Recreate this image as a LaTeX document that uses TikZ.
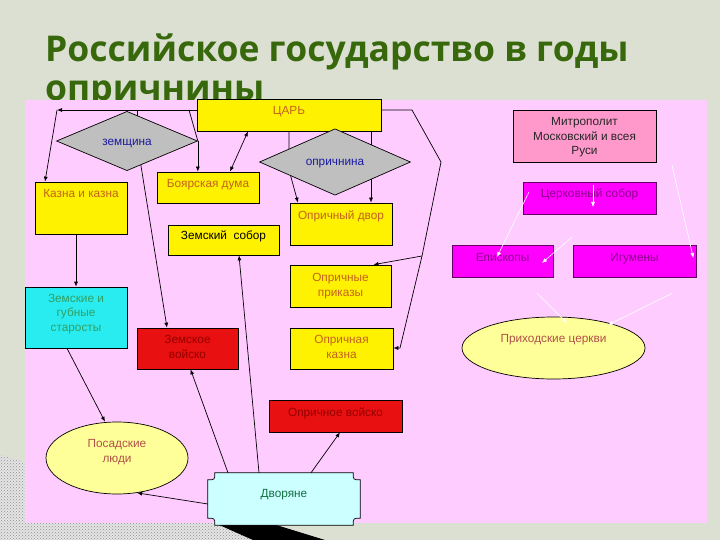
\documentclass[tikz,border=0pt]{standalone}
\usepackage{fontspec}
\setmainfont{Liberation Sans}
\newfontfamily\titlefont{Open Sans}
\usetikzlibrary{shapes.geometric,arrows.meta,calc,patterns}
\definecolor{slide}{RGB}{220,224,210}
\definecolor{panel}{RGB}{255,204,255}
\definecolor{titlegreen}{RGB}{56,104,12}
\definecolor{ytext}{RGB}{196,98,28}
\definecolor{navytext}{RGB}{26,26,160}
\definecolor{redbox}{RGB}{232,16,16}
\definecolor{redtext}{RGB}{150,0,0}
\definecolor{cyanbox}{RGB}{40,236,240}
\definecolor{greentext}{RGB}{50,160,100}
\definecolor{paleyellow}{RGB}{255,255,153}
\definecolor{rosetext}{RGB}{176,80,72}
\definecolor{palecyan}{RGB}{204,255,255}
\definecolor{dvortext}{RGB}{16,112,64}
\definecolor{metropink}{RGB}{255,153,204}
\definecolor{magentabox}{RGB}{255,0,255}
\definecolor{purpletext}{RGB}{140,0,140}
\definecolor{purpleedge}{RGB}{100,0,100}
\pgfdeclarelayer{back}
\pgfdeclarelayer{wires}
\pgfsetlayers{back,wires,main}
\newcommand{\boxfont}{\fontsize{11.8}{14.5}\selectfont}
\begin{document}
\begin{tikzpicture}[x=1pt,y=-1pt,
    >={Latex[length=5pt,width=4pt]},
    box/.style={draw=black, line width=0.7pt, inner xsep=2pt, inner ysep=0pt, align=center, font=\boxfont},
    ybox/.style={box, fill=yellow, text=ytext},
    rbox/.style={box, fill=redbox, text=redtext},
    mbox/.style={box, draw=purpleedge, fill=magentabox, text=purpletext},
    diam/.style={diamond, draw=black, line width=0.7pt, fill=black!25, text=navytext, inner sep=0pt, font=\boxfont},
    oval/.style={ellipse, draw=black, line width=0.7pt, fill=paleyellow, text=rosetext, inner sep=0pt, align=center, font=\boxfont},
    wire/.style={line width=0.7pt},
    ghost/.style={draw=white, line width=0.6pt}]
  \useasboundingbox (0,0) rectangle (720,540);

  % slide, title and panel
  \begin{pgfonlayer}{back}
    \fill[slide] (0,0) rectangle (720,540);
    \node[font=\titlefont\bfseries\fontsize{35.5}{39}\selectfont, text=titlegreen, anchor=base west, inner sep=0pt, align=left] (title) at (45,101) {Российское государство в годы\\опричнины};
    \fill[black!10] (0,455) -- (25,462) -- (25,523) -- (217,523) -- (253,540) -- (0,540) -- cycle;
    \fill[pattern=crosshatch dots, pattern color=black!45] (0,455) -- (25,462) -- (25,523) -- (217,523) -- (253,540) -- (0,540) -- cycle;
    \fill[black] (217,524) -- (273,524) -- (325,540) -- (253,540) -- cycle;
    \fill[panel] (25,100) rectangle (707,523);
  \end{pgfonlayer}

  % state
  \node[ybox, minimum width=184, text height=16, text depth=16] (car) at (289,115) {ЦАРЬ};
  \node[diam, minimum width=141, minimum height=40, text height=10, text depth=0] (zem) at (127,141) {земщина};
  \node[diam, minimum width=151, minimum height=40, text height=8, text depth=0] (opr) at (335,162) {опричнина};
  \node[ybox, minimum width=92, text height=16, text depth=36] (kazna) at (81,208) {Казна и казна};
  \node[ybox, minimum width=102, text height=16, text depth=15] (boyar) at (208,187.5) {Боярская дума};
  \node[ybox, minimum width=102, text height=16, text depth=26] (odvor) at (341,224) {Опричный двор};
  \node[ybox, text=black, minimum width=111, text height=15, text depth=15] (zsobor) at (223.5,240) {Земский\ \ собор};
  \node[ybox, minimum width=101, text height=31, text depth=11] (oprikaz) at (340.5,286) {Опричные\\приказы};
  \node[ybox, minimum width=103, text height=30, text depth=11] (okazna) at (341.5,348.5) {Опричная\\казна};
  \node[rbox, minimum width=133, text height=16, text depth=16] (ovoisko) at (335.5,416) {Опричное войско};
  \node[box, fill=cyanbox, text=greentext, minimum width=102, text height=44, text depth=17] (starosty) at (76,317.5) {Земские и\\губные\\старосты};
  \node[rbox, minimum width=101, text height=30, text depth=11] (zvoisko) at (187.5,348.5) {Земское\\войско};
  \node[oval, minimum width=142, minimum height=72, text height=22, text depth=14] (posad) at (117,458) {Посадские\\люди};
  \node[inner xsep=2pt, inner ysep=0pt, text=dvortext, font=\boxfont, minimum width=152, text height=24, text depth=28] (dvor) at (284,499) {Дворяне};

  % church
  \node[box, fill=metropink, text=black!85, minimum width=143, text height=45, text depth=7] (metro) at (584.5,136) {Митрополит\\Московский и всея\\Руси};
  \node[mbox, minimum width=133, text height=16, text depth=16] (csobor) at (589.5,198) {Церковный собор};
  \node[mbox, minimum width=101, text height=16, text depth=16] (episk) at (502.5,261) {Епископы};
  \node[mbox, minimum width=123, text height=16, text depth=16] (igum) at (634.5,261) {Игумены};
  \node[oval, minimum width=183, minimum height=62, text height=8, text depth=20] (prih) at (553.5,348) {Приходские церкви};

  \begin{pgfonlayer}{wires}
    \draw[wire, fill=palecyan] ($(dvor.north west)+(7,0)$) -- ($(dvor.north east)+(-7,0)$)
      .. controls ($(dvor.north east)+(-7,7)$) .. ($(dvor.north east)+(0,7)$)
      -- ($(dvor.south east)+(0,-7)$)
      .. controls ($(dvor.south east)+(-7,-7)$) .. ($(dvor.south east)+(-7,0)$)
      -- ($(dvor.south west)+(7,0)$)
      .. controls ($(dvor.south west)+(7,-7)$) .. ($(dvor.south west)+(0,-7)$)
      -- ($(dvor.north west)+(0,7)$)
      .. controls ($(dvor.north west)+(7,7)$) .. cycle;

    \coordinate (tl) at (57,110);
    \coordinate (zj) at (137,110);
    \coordinate (bj) at (189,110);
    \coordinate (oj) at (289,170);
    \coordinate (r1) at (412,110);
    \coordinate (r2) at (441,162);
    \coordinate (r3) at (422,256);
    \coordinate (r4) at (400,348);
    \draw[wire, ->] (car.west |- tl) -- (tl);
    \draw[wire, ->] (tl) -- ([xshift=-36]kazna.north);
    \draw[wire] (zj) -- (zj |- zem.center);
    \draw[wire] (bj) -- (zem.east);
    \draw[wire, ->] (zem.east) -- (zem.east |- boyar.north);
    \draw[wire, ->] ([xshift=10]zem.center) -- ([xshift=-20.5]zvoisko.north);
    \draw[wire, <->] ([xshift=-41]car.south) -- ([xshift=22]boyar.north);
    \draw[wire, ->] (starosty.north |- kazna.south) -- (starosty.north);
    \draw[wire, ->] ([xshift=-9]starosty.south) -- ([xshift=-12]posad.north);
    \draw[wire, ->] (car.south) -- (oj) -- ([xshift=-43]odvor.north);
    \draw[wire, ->] ([xshift=82]car.south) -- ([xshift=82]car.south |- odvor.north);
    \draw[wire, ->] (car.east |- r1) -- (r1) -- (r2) -- (r3) -- (r4) -- (okazna.east |- r4);
    \draw[wire, ->] (r3) -- ([xshift=33]oprikaz.north);
    \draw[wire, ->] ($(dvor.west)+(0,5)$) -- (posad.-60);
    \draw[wire, ->] ([xshift=-56]dvor.north) -- ([xshift=3]zvoisko.south);
    \draw[wire, ->] ([xshift=-25]dvor.north) -- ([xshift=15.5]zsobor.south);
    \draw[wire, ->] ([xshift=27]dvor.north) -- ([xshift=4.5]ovoisko.south);
  \end{pgfonlayer}

  % white arrows of the church part
  \coordinate (w1) at (572,237);
  \draw[ghost, ->] ($(csobor.center)+(-60.5,-6)$) -- ($(episk.center)+(-5.5,-4)$);
  \draw[ghost, ->] ($(csobor.north)+(3.5,3)$) -- ($(csobor.center)+(3.5,9)$);
  \draw[ghost, ->] (w1) -- ($(episk.center)+(39.5,2)$);
  \draw[ghost, ->] ($(metro.south)+(87.5,3)$) -- ($(igum.east)+(-3,-3)$);
  \draw[ghost, ->] ($(episk.south)+(34.5,16)$) -- ($(prih.center)+(13.5,-25)$);
  \draw[ghost, ->] ($(igum.south)+(37.5,16)$) -- ($(prih.center)+(54.5,-23)$);
\end{tikzpicture}
\end{document}
